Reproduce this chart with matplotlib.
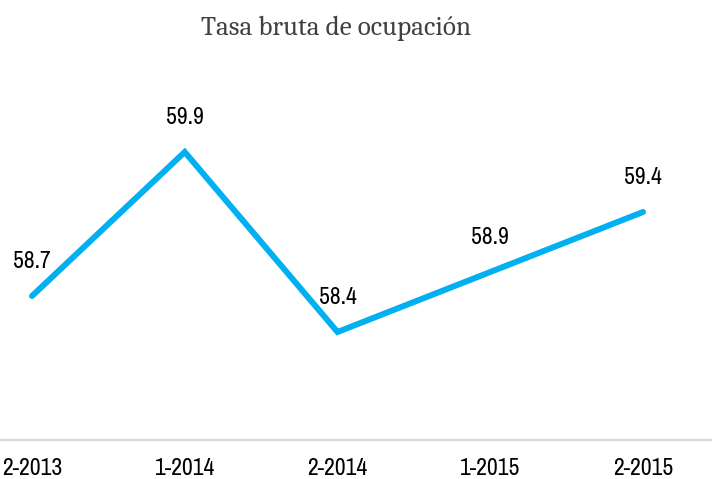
import matplotlib
matplotlib.use("Agg")
import matplotlib.pyplot as plt

# Tasa bruta de ocupación por semestre
periodos = ["2-2013", "1-2014", "2-2014", "1-2015", "2-2015"]
tasa = [58.7, 59.9, 58.4, 58.9, 59.4]

label_font = ["Archivo Narrow", "PT Sans Narrow", "Liberation Sans", "DejaVu Sans"]
title_font = ["Caladea", "Liberation Serif", "DejaVu Serif"]

fig = plt.figure(figsize=(7.12, 4.79), dpi=100)
ax = fig.add_axes([0.0, (479 - 440) / 479, 1.0, (440 - 80) / 479])

x = list(range(len(periodos)))
ax.plot(x, tasa, color="#00B0F0", linewidth=4.3, solid_capstyle="round",
        solid_joinstyle="miter", zorder=3)

for xi, v in zip(x, tasa):
    ax.annotate(f"{v:.1f}", (xi, v), xytext=(0, 24.5), textcoords="offset points",
                ha="center", va="center", fontsize=17, family=label_font,
                color="#000000")

ax.set_xlim(-32 / 152.75, 4 + (712 - 643) / 152.75)
ax.set_ylim(57.5, 60.5)

ax.set_xticks(x)
ax.set_xticklabels(periodos, family=label_font, fontsize=17, color="#000000")
ax.tick_params(axis="x", length=0, pad=13)
ax.set_yticks([])

for side in ("top", "right", "left"):
    ax.spines[side].set_visible(False)
ax.spines["bottom"].set_color("#D9D9D9")
ax.spines["bottom"].set_linewidth(1.6)

fig.text(336 / 712, 1 - 28 / 479, "Tasa bruta de ocupación", ha="center", va="center",
         fontsize=19.5, family=title_font, color="#404040")

fig.savefig("out.png", dpi=100)
